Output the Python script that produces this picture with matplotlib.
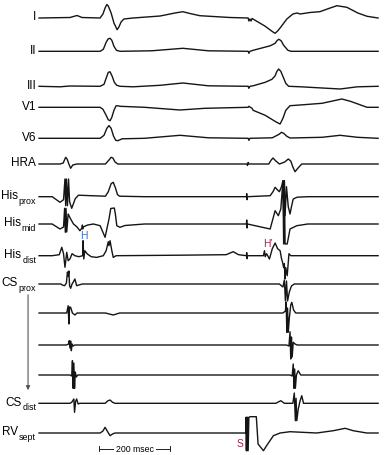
import matplotlib
matplotlib.use('Agg')
import matplotlib.pyplot as plt
import numpy as np

plt.rcParams['font.family'] = ['Liberation Sans', 'DejaVu Sans']

lead_I = [(3, 0), (90, 0.5), (110, 2.5), (124, 0.5), (175, 0), (183, 4), (189, 10), (194, 13.5),
          (198, 12), (206, 5), (214, -5), (223, -11.7), (228, -9), (234, -4), (242, -1), (268, 0),
          (344, 2), (386, 5), (408, 6.3), (428, 4.5), (456, 2.3), (541, 0.5), (592, 0),
          (594, -3), (597, -1), (600, -3), (603, -0.5), (639, -8), (662, -14), (668, -15.3),
          (675, -13), (682, -10), (701, -1), (718, 4), (730, 5), (738, 4), (766, 5.5), (794, 6.3),
          (823, 10), (842, 12.3), (870, 10.7), (901, 5), (927, 1.7), (958, 0)]
lead_II = [(3, 0), (175, 0), (184, 2), (192, 9), (198, 12.5), (203, 13), (208, 11), (214, 5),
           (221, 1), (231, 0), (320, 0.5), (408, 3), (480, 0.5), (592, 0), (594, -2), (597, 0),
           (606, 1), (654, 5.5), (668, 8), (674, 11), (679, 12), (685, 10.5), (692, 6), (704, 1),
           (713, 0), (958, 0)]
lead_III = [(3, 0), (62, -0.5), (90, 0.3), (175, 0), (186, 2), (193, 9), (198, 14), (203, 14.5),
            (209, 10), (215, 4), (222, 1), (231, 0), (268, -0.5), (344, 1), (408, 3.3), (480, 0.5),
            (592, 0), (594, -2), (597, 0), (606, 0.5), (640, 4), (659, 7), (668, 10.5),
            (673, 15), (678, 17.3), (684, 15), (691, 9), (698, 3), (706, 0), (740, -0.5),
            (851, -2.7), (900, -0.5), (958, 0)]
lead_V1 = [(3, 0), (175, 0), (183, -2), (192, -8), (198, -12.5), (203, -13.4), (208, -10),
           (214, -3), (220, 1.5), (226, 1.5), (231, 1), (300, 0), (400, -2.7), (470, -1),
           (592, 0), (594, 1), (603, -1), (606, -3), (640, -8), (670, -14.5), (682, -16.7),
           (690, -11), (698, -3), (710, 1.6), (738, 2.3), (800, 4), (856, 8.3), (880, 6),
           (927, 0), (958, 0)]
lead_V6 = [(3, 0), (175, 0), (186, 3), (194, 10), (200, 12.7), (206, 10), (213, 2),
           (219, -2), (225, -2.4), (237, -0.5), (300, 0), (400, 3), (480, 0.5), (592, 0),
           (594, -2), (597, 0), (660, 0.5), (679, 4), (686, 6), (692, 5), (701, 2), (710, 0.3),
           (800, 1), (851, 3), (900, 1), (958, 0)]
hra = [(3, 0), (62, 0), (71, 1), (78, 6.7), (82, 5), (87, 0), (92, -4.3), (98, -1), (110, 0),
       (190, 0), (200, 4), (206, 6.7), (211, 6), (217, 2), (225, 0), (589, 0), (590, -1.5),
       (592, 1.5), (594, 0), (650, 0), (657, 4), (662, 6), (670, 3), (680, 0), (695, 2),
       (705, 5), (712, 3), (718, -3), (724, -7.7), (735, -3), (743, 0), (958, 0)]
his_prox = [(3, 0), (40, 0), (62, -5.6), (72, -3), (76, 17.7), (78, -9), (80, 17.7), (83, -9),
            (86, 17.7), (89, -5), (95, -11.6), (105, -2), (114, 1.5), (150, 1), (190, 0.5),
            (198, 5), (206, 13), (212, 14.4), (218, 9), (224, 2), (230, 0.5), (300, 0), (587, 0),
            (588, 3), (589, -3), (590, 0), (654, 1), (662, 5), (668, 9.4), (674, 7), (680, 5),
            (686, 10), (690, 16), (692, -19), (694, 16), (696, -19), (700, 10), (705, -10),
            (710, -17.3), (714, -10), (719, -2.3), (730, -0.5), (760, 0), (958, 0)]
his_mid = [(3, 0), (40, 0), (62, -5), (72, -3), (75, 15.7), (77, -8.3), (79, 15.7), (81, -8),
           (85, 10), (92, 5), (100, 0), (110, -3), (118, -6.7), (124, -4), (125, -1), (126, -5),
           (127, -3), (140, -1), (156, 0), (175, -1.7), (189, -13.3), (200, 5), (205, 15.5),
           (215, 16), (218, 10), (222, -1.7), (231, -3.3), (245, -1.5), (300, 0), (587, 0),
           (588, 4), (589, -4), (590, 0), (654, -5), (668, 13.3), (677, 8.3), (684, 15),
           (690, 43.3), (692, -20), (694, 43.3), (696, -20), (702, -20), (710, -5),
           (729, -1.7), (760, 0), (958, 0)]
his_dist = [(3, 0), (40, 0), (60, 1), (67, 8.4), (72, 2), (76, -11.6), (79, -3), (81, 3.4),
            (85, -5), (90, -3.3), (96, 2), (104, 0), (115, -1), (126, 0), (127, 15), (129, -3.3),
            (132, 5), (139, 1.7), (150, -1), (165, -1.7), (184, 0), (192, 5), (198, 14),
            (200, 10), (203, 15), (208, 5), (212, -1.7), (220, 0), (400, 0.5), (530, 1),
            (550, 4), (565, 1), (587, 0), (588, 3), (589, -3), (590, 0), (635, 0), (638, 5),
            (640, -1), (644, 2), (652, -3.3), (660, 7), (668, 12.7), (675, 7), (682, 5),
            (686, -3), (689, -6.6), (692, -12), (694, -8), (696, -23.3), (698, -12), (702, -20),
            (707, 2), (712, 0), (958, 0)]
cs_prox = [(3, 0), (65, 0), (68, -1), (75, -1.7), (80, 1), (83, 12), (85, 8), (87, 13),
           (89, -1.7), (92, -4.3), (96, 0), (100, 2.3), (104, 5), (109, -1.7), (115, -1),
           (125, 0), (680, 0), (690, -3), (694, 4), (697, -17), (700, 3), (703, -17), (708, -8),
           (714, -2), (722, 0), (958, 0)]
cs_2 = [(3, 0), (81, 0), (85, 7.3), (87, -11), (89, 6), (92, 5.7), (97, 0), (104, -2), (110, 0),
        (190, 0), (212, -2), (230, 0), (690, 0), (697, 2), (699, 11), (701, -19.3), (703, 5),
        (705, -19.3), (708, -5), (712, 8), (715, 10.7), (720, 3), (726, 0), (958, 0)]
cs_3 = [(3, 0), (80, 0), (86, 1), (88, 4.3), (90, -3), (92, 4), (94, -5.7), (96, 1), (99, -1),
        (104, 0), (700, 0), (707, -1), (710, 13.3), (712, -14), (714, 8), (716, -12),
        (719, 2.7), (724, 1), (730, 0), (958, 0)]
cs_4 = [(3, 0), (90, 0), (95, -1), (97, 14.3), (99, -13.3), (101, 12), (103, -13.3), (105, 3),
        (108, -2), (112, 0), (710, 0), (716, -1), (719, 11), (721, -13.3), (723, 6),
        (725, -13.3), (728, 0), (733, 4.3), (740, 0), (958, 0)]
cs_dist = [(3, 0), (90, 0), (95, 1), (101, 4.3), (103, -9), (106, 2), (109, 4.3), (113, -0.7),
           (118, 0), (189, 0), (197, 2.5), (203, 3.3), (210, 1), (217, 0), (670, 0),
           (684, 2.6), (694, 0), (718, 0), (722, 10.3), (725, -17.4), (727, 5), (729, -17.4),
           (733, -6), (738, 2), (743, 7.6), (748, 0), (958, 0)]
rv_sept = [(3, 0), (175, 0), (183, 2), (189, 5.7), (195, 2), (203, -2.7), (210, -1), (217, 0),
           (585, 0), (586, 15.7), (587, -17.7), (588, 15.7), (589, -17.7), (590, 15.7),
           (592, -17.7), (594, 15.7), (597, 16.3), (615, 16.3), (620, -11), (635, -17.7),
           (644, -12.7), (663, -2.7), (682, 0), (710, 1.3), (785, 0), (832, 2.3), (865, 4.7),
           (888, 2.3), (926, 0), (958, 0)]

traces = [lead_I, lead_II, lead_III, lead_V1, lead_V6, hra, his_prox, his_mid, his_dist,
          cs_prox, cs_2, cs_3, cs_4, cs_dist, rv_sept]
# (name, subscript)
labels = [('I', ''), ('II', ''), ('III', ''), ('V1', ''), ('V6', ''), ('HRA', ''),
          ('His', 'prox'), ('His', 'mid'), ('His', 'dist'), ('CS', 'prox'), ('', ''), ('', ''),
          ('', ''), ('CS', 'dist'), ('RV', 'sept')]
# vertical position of each channel (px from top)
rows = [19, 52.3, 87.3, 108.3, 139.3, 165, 197.7, 225, 256.7, 285, 314, 346, 376, 404.3, 434]

scale_ms = (172, 372)

fig = plt.figure(figsize=(3.85, 4.56), dpi=100)
ax = fig.add_axes([0, 0, 1, 1])
ax.set_xlim(-107, 977.5)
ax.set_ylim(-456, 0)
ax.axis('off')
renderer = fig.canvas.get_renderer()
px_ms = 1084.5 / 385  # ms per pixel along x

for pts, (name, sub), r in zip(traces, labels, rows):
    t, v = zip(*pts)
    ax.plot(t, np.array(v) - r, color='#151515', lw=1.0, solid_joinstyle='round')
    if not name:
        continue
    x_end = -5
    if sub:
        st = ax.text(x_end, -r - 6, sub, ha='right', va='baseline', fontsize=6.4)
        w = st.get_window_extent(renderer).width
        ax.text(x_end - (w + 0.8) * px_ms, -r - 1.5, name, ha='right', va='baseline',
                fontsize=8.5)
    else:
        ax.text(x_end, -r + 1.5, name, ha='right', va='center', fontsize=8.5)

# markers
ax.text(130, -236, 'H', color='#3d74bd', fontsize=7.5, ha='center', va='center')
ax.text(648, -244, "H\u2019", color='#a8264c', fontsize=7.5, ha='center', va='center')
ax.text(569, -444, 'S', color='#a8264c', fontsize=7.5, ha='center', va='center')

# CS prox -> dist arrow
ax.annotate('', xy=(-28, -394), xytext=(-28, -293),
            arrowprops=dict(arrowstyle='-|>', color='#555555', lw=0.8, mutation_scale=6))

# time scale bar
yb = -450
ax.plot(scale_ms, [yb, yb], color='#222222', lw=0.7)
for x in scale_ms:
    ax.plot([x, x], [yb - 2.5, yb + 2.5], color='#222222', lw=0.7)
ax.text(sum(scale_ms) / 2, yb, '200 msec', fontsize=6.3, ha='center', va='center',
        bbox=dict(facecolor='white', edgecolor='none', pad=1.5))

fig.savefig('out.png', dpi=100)
